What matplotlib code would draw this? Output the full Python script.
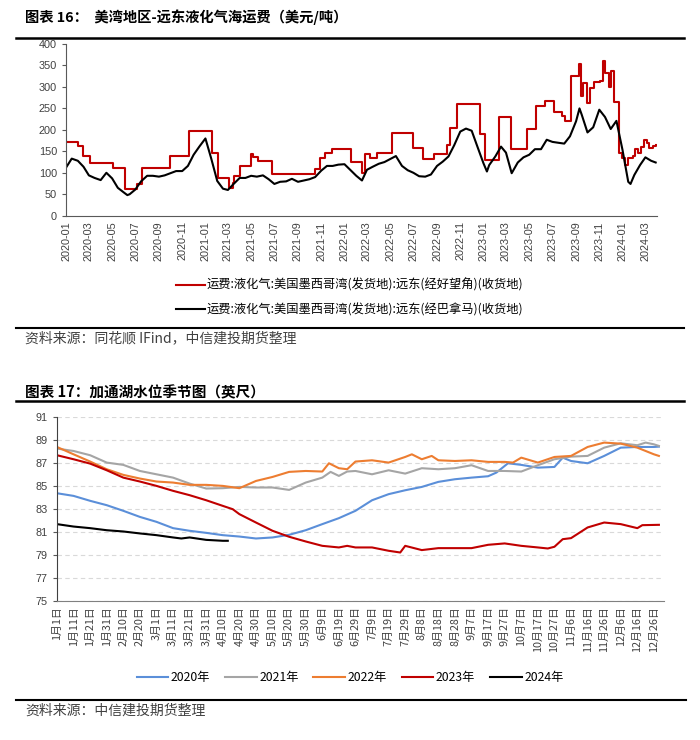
import pandas as pd
import matplotlib
matplotlib.use("Agg")
import matplotlib.pyplot as plt
import matplotlib.dates as mdates
from matplotlib.lines import Line2D

plt.rcParams['font.family'] = ['Liberation Sans', 'Noto Sans CJK SC', 'DejaVu Sans']
plt.rcParams['axes.unicode_minus'] = False

# ---------- 图表16 数据 ----------
cape_dates = ["2020-01-01", "2020-02-02", "2020-02-15", "2020-03-05", "2020-05-03", "2020-06-05",
              "2020-07-05", "2020-07-18", "2020-10-01", "2020-11-18", "2021-01-18", "2021-02-04",
              "2021-03-03", "2021-03-14", "2021-03-18", "2021-04-01", "2021-05-01", "2021-05-07",
              "2021-05-19", "2021-06-24", "2021-10-16", "2021-10-28", "2021-11-11", "2021-11-28",
              "2022-01-19", "2022-02-16", "2022-02-25", "2022-03-08", "2022-03-27", "2022-05-07",
              "2022-07-01", "2022-07-27", "2022-08-24", "2022-09-28", "2022-10-05", "2022-10-23",
              "2022-12-22", "2023-01-06", "2023-02-11", "2023-03-13", "2023-04-24", "2023-05-20",
              "2023-06-12", "2023-07-06", "2023-07-25", "2023-08-04", "2023-08-19", "2023-09-08",
              "2023-09-14", "2023-09-19", "2023-09-30", "2023-10-08", "2023-10-17", "2023-11-04",
              "2023-11-11", "2023-11-16", "2023-11-26", "2023-12-01", "2023-12-10", "2023-12-24",
              "2023-12-31", "2024-01-08", "2024-01-15", "2024-01-28", "2024-02-04", "2024-02-10",
              "2024-02-18", "2024-02-26", "2024-03-05", "2024-03-10", "2024-03-20", "2024-03-29"]
cape_vals = [172, 163, 139, 123, 112, 62,
             73, 111, 139, 198, 146, 87,
             65, 76, 93, 116, 144, 136,
             127, 97, 108, 135, 147, 155,
             125, 99, 144, 135, 147, 192,
             157, 132, 143, 165, 205, 261,
             190, 130, 230, 156, 202, 255,
             268, 241, 233, 220, 325, 354,
             280, 309, 262, 298, 311, 315,
             360, 333, 301, 336, 266, 146,
             134, 118, 134, 140, 155, 146,
             160, 177, 170, 157, 163, 165]

panama_dates = ["2020-01-01", "2020-01-16", "2020-02-01", "2020-02-16", "2020-03-01", "2020-03-16",
                "2020-04-01", "2020-04-16", "2020-05-01", "2020-05-16", "2020-06-01", "2020-06-10",
                "2020-06-16", "2020-07-01", "2020-07-16", "2020-08-01", "2020-08-16", "2020-09-01",
                "2020-09-16", "2020-10-01", "2020-10-16", "2020-11-01", "2020-11-16", "2020-12-01",
                "2020-12-16", "2021-01-01", "2021-01-16", "2021-02-01", "2021-02-16", "2021-03-01",
                "2021-03-16", "2021-04-01", "2021-04-16", "2021-05-01", "2021-05-16", "2021-06-01",
                "2021-06-16", "2021-07-01", "2021-07-16", "2021-08-01", "2021-08-16", "2021-09-01",
                "2021-09-16", "2021-10-01", "2021-10-16", "2021-11-01", "2021-11-16", "2021-12-01",
                "2021-12-16", "2022-01-01", "2022-01-16", "2022-02-01", "2022-02-16", "2022-03-01",
                "2022-03-16", "2022-04-01", "2022-04-16", "2022-05-01", "2022-05-16", "2022-06-01",
                "2022-06-16", "2022-07-01", "2022-07-16", "2022-08-01", "2022-08-16", "2022-09-01",
                "2022-09-16", "2022-10-01", "2022-10-16", "2022-11-01", "2022-11-16", "2022-12-01",
                "2022-12-16", "2023-01-01", "2023-01-10", "2023-01-16", "2023-02-01", "2023-02-16",
                "2023-03-01", "2023-03-16", "2023-04-01", "2023-04-16", "2023-05-01", "2023-05-16",
                "2023-06-01", "2023-06-16", "2023-07-01", "2023-07-16", "2023-08-01", "2023-08-16",
                "2023-09-01", "2023-09-10", "2023-09-16", "2023-10-01", "2023-10-16", "2023-11-01",
                "2023-11-16", "2023-12-01", "2023-12-16", "2024-01-01", "2024-01-16", "2024-01-22",
                "2024-02-01", "2024-02-16", "2024-03-01", "2024-03-16", "2024-03-28"]
panama_vals = [112, 133, 128, 114, 94, 88,
               83, 100, 87, 65, 54, 48,
               50, 61, 80, 93, 93, 91,
               94, 99, 104, 104, 116, 142,
               161, 180, 134, 81, 63, 60,
               74, 88, 88, 93, 91, 94,
               85, 74, 79, 80, 86, 79,
               82, 85, 90, 105, 116, 116,
               119, 120, 107, 93, 82, 107,
               114, 121, 125, 132, 139, 116,
               106, 100, 92, 91, 96, 116,
               126, 138, 164, 196, 203, 198,
               161, 122, 103, 118, 138, 161,
               147, 99, 124, 136, 142, 155,
               155, 177, 172, 170, 168, 185,
               220, 250, 235, 194, 206, 247,
               230, 202, 221, 153, 79, 74,
               95, 118, 136, 128, 124]

cape_label = "运费:液化气:美国墨西哥湾(发货地):远东(经好望角)(收货地)"
panama_label = "运费:液化气:美国墨西哥湾(发货地):远东(经巴拿马)(收货地)"

# ---------- 图表17 数据（年内天数） ----------
days_2020 = [0, 10, 20, 30, 40, 50, 60, 70, 80, 90, 100, 110, 120, 130, 140, 150, 160, 170, 180,
             190, 200, 210, 220, 230, 240, 250, 260, 265, 272, 280, 290, 300, 305, 310, 320, 330,
             340, 350, 360, 363]
lvl_2020 = [84.36, 84.13, 83.70, 83.32, 82.83, 82.30, 81.87, 81.32, 81.09, 80.91, 80.71, 80.59,
            80.42, 80.51, 80.74, 81.14, 81.67, 82.19, 82.83, 83.75, 84.28, 84.62, 84.91, 85.35,
            85.58, 85.72, 85.84, 86.16, 86.97, 86.83, 86.59, 86.65, 87.46, 87.17, 86.97, 87.61,
            88.33, 88.39, 88.39, 88.42]

days_2021 = [0, 10, 20, 30, 40, 50, 60, 70, 80, 90, 100, 110, 120, 130, 140, 150, 160, 165, 170,
             175, 180, 190, 200, 210, 220, 230, 240, 250, 260, 270, 280, 290, 300, 310, 320, 330,
             340, 350, 355, 360, 363]
lvl_2021 = [88.25, 88.04, 87.67, 87.03, 86.83, 86.30, 86.01, 85.72, 85.20, 84.77, 84.80, 84.91,
            84.86, 84.86, 84.65, 85.29, 85.72, 86.22, 85.87, 86.25, 86.30, 86.01, 86.36, 86.07,
            86.54, 86.45, 86.54, 86.80, 86.30, 86.30, 86.25, 86.80, 87.32, 87.55, 87.61, 88.33,
            88.71, 88.54, 88.77, 88.62, 88.48]

days_2022 = [0, 10, 20, 30, 40, 50, 60, 70, 80, 90, 100, 110, 120, 130, 140, 150, 160, 164, 170,
             175, 180, 190, 200, 210, 214, 220, 226, 230, 240, 250, 260, 270, 275, 280, 290, 300,
             310, 320, 330, 340, 350, 360, 363]
lvl_2022 = [88.39, 87.75, 87.12, 86.45, 85.96, 85.64, 85.38, 85.29, 85.09, 85.09, 85.00, 84.80,
            85.43, 85.78, 86.22, 86.30, 86.25, 86.97, 86.54, 86.45, 87.12, 87.23, 87.03, 87.52,
            87.75, 87.32, 87.61, 87.23, 87.17, 87.23, 87.09, 87.09, 87.03, 87.46, 87.03, 87.52,
            87.61, 88.39, 88.77, 88.68, 88.33, 87.75, 87.61]

days_2023 = [0, 10, 20, 30, 40, 50, 60, 70, 80, 90, 100, 106, 110, 120, 130, 140, 150, 160, 170,
             175, 180, 190, 200, 207, 210, 220, 230, 240, 250, 260, 270, 280, 290, 296, 300, 305,
             310, 320, 330, 340, 350, 353, 363]
lvl_2023 = [87.67, 87.32, 86.94, 86.36, 85.72, 85.38, 85.00, 84.57, 84.19, 83.75, 83.26, 82.97,
            82.54, 81.81, 81.09, 80.57, 80.16, 79.78, 79.64, 79.78, 79.64, 79.64, 79.35, 79.20,
            79.78, 79.41, 79.58, 79.58, 79.58, 79.87, 79.99, 79.78, 79.64, 79.55, 79.70, 80.36,
            80.45, 81.38, 81.81, 81.67, 81.32, 81.58, 81.61]

days_2024 = [0, 10, 20, 30, 40, 50, 60, 70, 75, 80, 90, 100, 103]
lvl_2024 = [81.67, 81.46, 81.32, 81.14, 81.03, 80.86, 80.71, 80.51, 80.42, 80.51, 80.30, 80.22, 80.22]

lake_years = ["2020年", "2021年", "2022年", "2023年", "2024年"]
lake_colors = ["#5B8FD9", "#A5A5A5", "#ED7D31", "#C00000", "#000000"]

CJK = ['Noto Sans CJK SC', 'DejaVu Sans']

fig = plt.figure(figsize=(7, 7.4), dpi=100)

# ---------- 上图 ----------
fig.text(0.036, 0.977, "图表 16：  美湾地区-远东液化气海运费（美元/吨）", fontsize=10.3,
         fontweight='bold', family=CJK, va='center', ha='left')
fig.add_artist(Line2D([0.023, 0.977], [0.9486, 0.9486], color='black', lw=1.8))

ax1 = fig.add_axes([0.0943, 0.7085, 0.844, 0.232])
ax1.plot(pd.to_datetime(cape_dates), cape_vals, color='#C00000', lw=1.5,
         drawstyle='steps-post', label=cape_label)
ax1.plot(pd.to_datetime(panama_dates), panama_vals, color='black', lw=1.5, label=panama_label)
ax1.set_ylim(0, 400)
ax1.set_yticks(range(0, 401, 50))
ax1.set_xlim(pd.Timestamp("2020-01-01"), pd.Timestamp("2024-03-31"))
ax1.xaxis.set_major_locator(mdates.MonthLocator(bymonth=[1, 3, 5, 7, 9, 11]))
ax1.xaxis.set_major_formatter(mdates.DateFormatter("%Y-%m"))
plt.setp(ax1.get_xticklabels(), rotation=90, fontsize=7.8, color='#404040')
plt.setp(ax1.get_yticklabels(), fontsize=7.8, color='#404040')
ax1.tick_params(axis='y', length=3, color='#595959')
ax1.tick_params(axis='x', length=0, pad=4)
for s in ['top', 'right']:
    ax1.spines[s].set_visible(False)
for s in ['left', 'bottom']:
    ax1.spines[s].set_color('#595959')

fig.legend(handles=ax1.get_lines(), loc='center', bbox_to_anchor=(0.5, 0.598), ncol=1,
           frameon=False, handlelength=2.3, handletextpad=0.2, labelspacing=0.9,
           prop={'family': CJK, 'size': 8.8})
fig.add_artist(Line2D([0.023, 0.977], [0.5568, 0.5568], color='black', lw=1.5))
fig.text(0.036, 0.5432, "资料来源：同花顺 IFind，中信建投期货整理", fontsize=10, family=CJK,
         style='italic', color='#404040', va='center', ha='left')

# ---------- 下图 ----------
fig.text(0.036, 0.4703, "图表 17：加通湖水位季节图（英尺）", fontsize=10.5,
         fontweight='bold', family=CJK, va='center', ha='left')
fig.add_artist(Line2D([0.023, 0.977], [0.4585, 0.4585], color='black', lw=1.8))

ax2 = fig.add_axes([0.0814, 0.1882, 0.867, 0.2483])
series = [(days_2020, lvl_2020), (days_2021, lvl_2021), (days_2022, lvl_2022),
          (days_2023, lvl_2023), (days_2024, lvl_2024)]
for (d, v), name, c in zip(series, lake_years, lake_colors):
    ax2.plot(d, v, color=c, lw=1.5, label=name)
ax2.set_ylim(75, 91)
ax2.set_yticks(range(75, 92, 2))
ax2.set_xlim(0, 366)
tick_days = list(range(0, 361, 10))
# 横轴按闰年(2020)的月日标注
tick_dates = [pd.Timestamp("2020-01-01") + pd.Timedelta(days=d) for d in tick_days]
ax2.set_xticks(tick_days)
ax2.set_xticklabels([f"{t.month}月{t.day}日" for t in tick_dates], rotation=90,
                    fontsize=7.8, family=CJK, color='#404040')
plt.setp(ax2.get_yticklabels(), fontsize=7.8, color='#404040')
ax2.tick_params(axis='x', length=0, pad=4)
ax2.tick_params(axis='y', length=3, color='#595959')
ax2.grid(axis='y', color='#D9D9D9', linestyle=(0, (4, 3)), lw=0.8)
ax2.set_axisbelow(True)
for s in ['top', 'right']:
    ax2.spines[s].set_visible(False)
ax2.spines['left'].set_color('#404040')
ax2.spines['bottom'].set_color('#808080')

fig.legend(handles=ax2.get_lines(), loc='center', bbox_to_anchor=(0.5, 0.0838), ncol=5,
           frameon=False, handlelength=2.6, handletextpad=0.2, columnspacing=1.2,
           prop={'family': CJK, 'size': 8.8})
fig.add_artist(Line2D([0.023, 0.98], [0.054, 0.054], color='black', lw=1.5))
fig.text(0.036, 0.0392, "资料来源：中信建投期货整理", fontsize=10, family=CJK,
         style='italic', color='#404040', va='center', ha='left')

fig.savefig("out.png", dpi=100)
